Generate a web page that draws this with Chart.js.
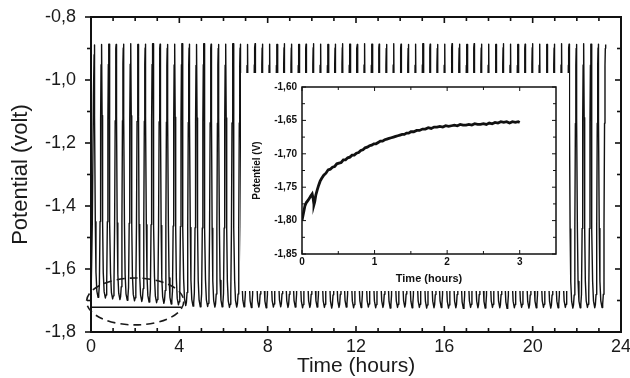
<!DOCTYPE html>
<html><head><meta charset="utf-8">
<script src="https://cdn.jsdelivr.net/npm/chart.js@4.4.0/dist/chart.umd.min.js"></script>
<style>
html,body{margin:0;padding:0;background:#fff;}
#wrap{position:relative;width:630px;height:378px;overflow:hidden;}
#main{position:absolute;left:0;top:0;}
#insetBox{position:absolute;left:241px;top:73px;width:328px;height:218px;background:#fff;}
#inset{position:absolute;left:0;top:0;}
</style></head><body>
<div id="wrap">
<canvas id="main" width="630" height="378"></canvas>
<div id="insetBox"><canvas id="inset" width="328" height="218"></canvas></div>
</div>
<script>
// ---------------- DATA ----------------
// main chart: time of each cycle's minimum (hours)
const troughTime = [
 0.32,0.65,0.98,1.31,1.64,1.97,2.30,2.63,2.97,3.30,
 3.63,3.96,4.29,4.62,4.95,5.28,5.61,5.94,6.27,6.60,
 6.93,7.26,7.60,7.93,8.26,8.59,8.92,9.25,9.58,9.91,
 10.24,10.57,10.90,11.23,11.56,11.89,12.23,12.56,12.89,13.22,
 13.55,13.88,14.21,14.54,14.87,15.20,15.53,15.86,16.19,16.52,
 16.86,17.19,17.52,17.85,18.18,18.51,18.84,19.17,19.50,19.83,
 20.16,20.49,20.82,21.15,21.48,21.82,22.15,22.48,22.81,23.14];
// main chart: potential at each cycle's minimum (volt)
const troughPotential = [
 -1.690,-1.692,-1.695,-1.697,-1.699,-1.701,-1.703,-1.705,-1.707,-1.709,
 -1.711,-1.714,-1.716,-1.718,-1.720,-1.719,-1.721,-1.720,-1.722,-1.721,
 -1.720,-1.722,-1.721,-1.723,-1.721,-1.720,-1.722,-1.721,-1.723,-1.722,
 -1.721,-1.722,-1.724,-1.722,-1.721,-1.723,-1.722,-1.721,-1.723,-1.722,
 -1.724,-1.722,-1.721,-1.723,-1.722,-1.724,-1.723,-1.722,-1.724,-1.723,
 -1.725,-1.722,-1.723,-1.724,-1.722,-1.723,-1.725,-1.723,-1.722,-1.724,
 -1.723,-1.722,-1.724,-1.723,-1.722,-1.724,-1.723,-1.722,-1.723,-1.722];
// main chart: potential at each cycle's maximum (one before every minimum + final one)
const peakPotential = [
 -0.889,-0.887,-0.886,-0.887,-0.886,-0.885,-0.887,-0.886,-0.885,-0.886,
 -0.887,-0.886,-0.885,-0.886,-0.887,-0.885,-0.886,-0.887,-0.886,-0.885,
 -0.886,-0.887,-0.885,-0.886,-0.886,-0.887,-0.885,-0.886,-0.887,-0.886,
 -0.885,-0.886,-0.887,-0.886,-0.885,-0.886,-0.887,-0.885,-0.886,-0.886,
 -0.887,-0.885,-0.886,-0.887,-0.886,-0.885,-0.886,-0.887,-0.886,-0.885,
 -0.886,-0.887,-0.885,-0.886,-0.886,-0.887,-0.885,-0.886,-0.887,-0.886,
 -0.885,-0.886,-0.887,-0.886,-0.885,-0.886,-0.887,-0.885,-0.886,-0.886,
 -0.887];
// shape of one cycle: offset from minimum (h) and fraction of swing
const descentOffset = [-0.172,-0.160,-0.148,-0.125,-0.095,-0.055,0];
const descentLevel  = [1,1,0.72,0.30,0.10,0.025,0];
const ascentOffset  = [0.03,0.06,0.09,0.115,0.135,0.150];
const ascentLevel   = [0.012,0.05,0.30,0.70,0.92,0.985];
// first rising stroke at t = 0
const startTime = [0.0,0.06,0.11,0.14];
const startPotential = [-1.700,-1.45,-1.05,-0.92];
// horizontal reference line at the bottom left
const refLineTime = [0.03,4.1];
const refLinePotential = [-1.7215,-1.7215];
// dashed ellipse (centre / radii in data units)
const ellipseCenter = [2.0,-1.703];
const ellipseRadius = [2.2,0.0745];
// axes
const mainXTicks = [0,4,8,12,16,20,24];
const mainXMinor = [1,2,3,5,6,7,9,10,11,13,14,15,17,18,19,21,22,23];
const mainYTicks = [-1.8,-1.6,-1.4,-1.2,-1.0,-0.8];
const mainYMinor = [-1.7,-1.5,-1.3,-1.1,-0.9];

// inset
const insetTime = [
 0.00,0.02,0.04,0.06,0.08,0.10,0.12,0.14,0.155,0.165,0.175,0.19,0.21,0.23,0.25,0.27,0.30,0.33,0.36,0.39,
 0.42,0.45,0.48,0.51,0.54,0.57,0.60,0.63,0.66,0.69,0.72,0.75,0.78,0.81,0.84,0.87,0.90,0.93,0.96,0.99,
 1.02,1.05,1.08,1.11,1.14,1.17,1.20,1.23,1.26,1.29,1.32,1.35,1.38,1.41,1.44,1.47,1.50,1.54,1.58,1.62,
 1.66,1.70,1.74,1.78,1.82,1.86,1.90,1.94,1.98,2.02,2.06,2.10,2.14,2.18,2.22,2.26,2.30,2.34,2.38,2.42,
 2.46,2.50,2.54,2.58,2.62,2.66,2.70,2.74,2.78,2.82,2.86,2.90,2.94,2.98,3.00];
const insetPotential = [
 -1.800,-1.789,-1.778,-1.773,-1.770,-1.767,-1.763,-1.760,-1.768,-1.776,-1.772,-1.762,-1.754,-1.747,-1.741,-1.737,-1.732,-1.729,-1.724,-1.723,
 -1.720,-1.719,-1.715,-1.714,-1.713,-1.709,-1.709,-1.706,-1.705,-1.702,-1.702,-1.699,-1.698,-1.695,-1.694,-1.691,-1.690,-1.688,-1.687,-1.685,
 -1.685,-1.683,-1.681,-1.681,-1.679,-1.678,-1.677,-1.676,-1.675,-1.674,-1.673,-1.672,-1.671,-1.671,-1.669,-1.669,-1.667,-1.667,-1.665,-1.665,
 -1.663,-1.663,-1.661,-1.662,-1.660,-1.660,-1.659,-1.660,-1.658,-1.659,-1.658,-1.657,-1.658,-1.656,-1.657,-1.657,-1.656,-1.657,-1.655,-1.656,
 -1.656,-1.655,-1.656,-1.654,-1.655,-1.653,-1.654,-1.652,-1.653,-1.652,-1.654,-1.652,-1.653,-1.652,-1.653];
const insetXTicks = [0,1,2,3];
const insetXMinor = [0.5,1.5,2.5];
const insetYTicks = [-1.85,-1.80,-1.75,-1.70,-1.65,-1.60];
const insetYMinor = [-1.825,-1.775,-1.725,-1.675,-1.625];

// ---------------- build series ----------------
const mainSeries = [];
startTime.forEach((t,i)=>mainSeries.push({x:t,y:startPotential[i]}));
troughTime.forEach((T,k)=>{
  const lo = troughPotential[k], hiBefore = peakPotential[k], hiAfter = peakPotential[k+1];
  descentOffset.forEach((o,i)=>mainSeries.push({x:T+o, y:lo+descentLevel[i]*(hiBefore-lo)}));
  ascentOffset.forEach((o,i)=>mainSeries.push({x:T+o, y:lo+ascentLevel[i]*(hiAfter-lo)}));
});
const lastT = troughTime[troughTime.length-1];
const lastPeak = peakPotential[peakPotential.length-1];
mainSeries.push({x:lastT+0.160, y:lastPeak});
mainSeries.push({x:lastT+0.172, y:lastPeak});
const refLine = refLineTime.map((t,i)=>({x:t,y:refLinePotential[i]}));
const insetSeries = insetTime.map((t,i)=>({x:t,y:insetPotential[i]}));

// ---------------- plugins ----------------
const frameTicks = {
  id:'frameTicks',
  afterDatasetsDraw(chart, args, o){
    const {ctx, chartArea:a, scales:{x,y}} = chart;
    ctx.save();
    ctx.strokeStyle='#111';
    const line=(x1,y1,x2,y2)=>{ctx.beginPath();ctx.moveTo(x1,y1);ctx.lineTo(x2,y2);ctx.stroke();};
    ctx.lineWidth=o.tickWidth;
    const ls = o.leftOut ? -1 : 1;
    const xt=(vals,len)=>vals.forEach(v=>{const p=x.getPixelForValue(v);line(p,a.bottom,p,a.bottom-len);line(p,a.top,p,a.top+len);});
    const yt=(vals,len)=>vals.forEach(v=>{const p=y.getPixelForValue(v);line(a.left,p,a.left+ls*len,p);line(a.right,p,a.right-len,p);});
    xt(o.xMajor,o.majorLen); xt(o.xMinor,o.minorLen);
    yt(o.yMajor,o.majorLen); yt(o.yMinor,o.minorLen);
    ctx.lineWidth=o.frameWidth;
    ctx.strokeRect(a.left,a.top,a.right-a.left,a.bottom-a.top);
    ctx.restore();
  }
};
const ellipsePlugin = {
  id:'ellipse',
  afterDatasetsDraw(chart){
    if(chart.canvas.id!=='main') return;
    const {ctx, scales:{x,y}} = chart;
    const cx=x.getPixelForValue(ellipseCenter[0]), cy=y.getPixelForValue(ellipseCenter[1]);
    const rx=Math.abs(x.getPixelForValue(ellipseCenter[0]+ellipseRadius[0])-cx);
    const ry=Math.abs(y.getPixelForValue(ellipseCenter[1]+ellipseRadius[1])-cy);
    ctx.save();
    ctx.strokeStyle='#1a1a1a'; ctx.lineWidth=1.6; ctx.setLineDash([8,5]);
    ctx.beginPath(); ctx.ellipse(cx,cy,rx,ry,0,0,Math.PI*2); ctx.stroke();
    ctx.restore();
  }
};
const comma = (v,d)=>Number(v).toFixed(d).replace('.',',');
const FONT='"Liberation Sans", Arial, Helvetica, sans-serif';
const noPad = s=>{s.paddingTop=0;s.paddingBottom=0;s.paddingLeft=0;s.paddingRight=0;};

// ---------------- main chart ----------------
new Chart(document.getElementById('main'),{
  type:'line',
  data:{datasets:[
    {data:mainSeries,borderColor:'#111',borderWidth:1.4,pointRadius:0,tension:0,fill:false,borderJoinStyle:'round'},
    {data:refLine,borderColor:'#111',borderWidth:1.3,pointRadius:0,tension:0,fill:false}
  ]},
  options:{
    responsive:false,animation:false,events:[],
    layout:{padding:{top:17,right:9,left:0,bottom:0}},
    plugins:{legend:{display:false},tooltip:{enabled:false},
      frameTicks:{xMajor:mainXTicks,xMinor:mainXMinor,yMajor:mainYTicks,yMinor:mainYMinor,majorLen:6,minorLen:4,tickWidth:1.6,frameWidth:2,leftOut:true}},
    scales:{
      x:{type:'linear',min:0,max:24,
        afterFit:s=>{s.height=46;noPad(s);},
        afterBuildTicks:s=>{s.ticks=mainXTicks.map(v=>({value:v}));},
        grid:{display:false,drawTicks:false},border:{display:false},
        ticks:{padding:4,color:'#1a1a1a',maxRotation:0,font:{family:FONT,size:18},callback:v=>String(v)},
        title:{display:true,text:'Time (hours)',color:'#1a1a1a',font:{family:FONT,size:21,lineHeight:1},padding:{top:0,bottom:1}}},
      y:{type:'linear',min:-1.8,max:-0.8,
        afterFit:s=>{s.width=91;noPad(s);},
        afterBuildTicks:s=>{s.ticks=mainYTicks.map(v=>({value:v}));},
        grid:{display:false,drawTicks:false},border:{display:false},
        ticks:{padding:15,color:'#1a1a1a',font:{family:FONT,size:18},callback:v=>comma(v,1)},
        title:{display:true,text:'Potential (volt)',color:'#1a1a1a',font:{family:FONT,size:22},padding:{top:8,bottom:0}}}
    }
  },
  plugins:[frameTicks,ellipsePlugin]
});

// ---------------- inset chart ----------------
new Chart(document.getElementById('inset'),{
  type:'line',
  data:{datasets:[
    {data:insetSeries,borderColor:'#111',borderWidth:2.8,pointRadius:0,tension:0,fill:false}
  ]},
  options:{
    responsive:false,animation:false,events:[],
    layout:{padding:{top:14,right:13,left:0,bottom:0}},
    plugins:{legend:{display:false},tooltip:{enabled:false},
      frameTicks:{xMajor:insetXTicks,xMinor:insetXMinor,yMajor:insetYTicks,yMinor:insetYMinor,majorLen:4,minorLen:3,tickWidth:1,frameWidth:1.5,leftOut:false}},
    scales:{
      x:{type:'linear',min:0,max:3.5,
        afterFit:s=>{s.height=37;noPad(s);},
        afterBuildTicks:s=>{s.ticks=insetXTicks.map(v=>({value:v}));},
        grid:{display:false,drawTicks:false},border:{display:false},
        ticks:{padding:2,color:'#111',maxRotation:0,font:{family:FONT,size:10,weight:'bold'},callback:v=>String(v)},
        title:{display:true,text:'Time (hours)',color:'#111',font:{family:FONT,size:11,weight:'bold'},padding:{top:0,bottom:5}}},
      y:{type:'linear',min:-1.85,max:-1.60,
        afterFit:s=>{s.width=61;noPad(s);},
        afterBuildTicks:s=>{s.ticks=insetYTicks.map(v=>({value:v}));},
        grid:{display:false,drawTicks:false},border:{display:false},
        ticks:{padding:5,color:'#111',font:{family:FONT,size:10,weight:'bold'},callback:v=>comma(v,2)},
        title:{display:true,text:'Potentiel (V)',color:'#111',font:{family:FONT,size:10,weight:'bold'},padding:{top:10,bottom:0}}}
    }
  },
  plugins:[frameTicks]
});
</script>
</body></html>
